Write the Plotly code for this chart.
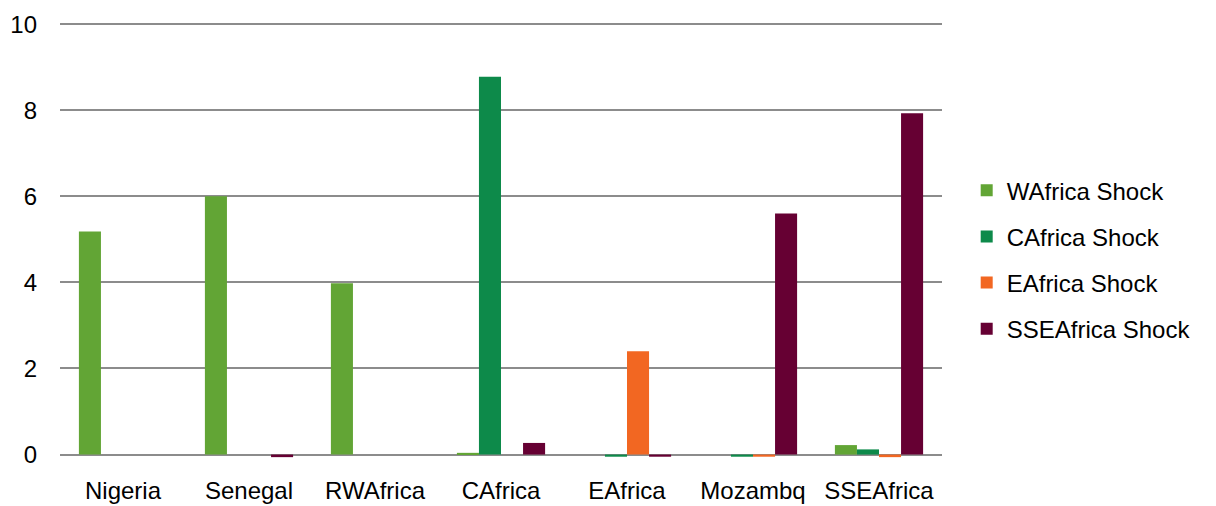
import plotly.graph_objects as go

categories = ["Nigeria", "Senegal", "RWAfrica", "CAfrica", "EAfrica", "Mozambq", "SSEAfrica"]
wafrica = [5.18, 6.0, 3.98, 0.04, 0.0, 0.0, 0.22]
cafrica = [0.0, 0.0, 0.0, 8.78, -0.05, -0.05, 0.12]
eafrica = [0.0, 0.0, 0.0, 0.0, 2.4, -0.05, -0.06]
sseafrica = [0.0, -0.06, 0.0, 0.27, -0.05, 5.6, 7.93]

series = [
    ("WAfrica Shock", wafrica, "#62A535"),
    ("CAfrica Shock", cafrica, "#0D8A4A"),
    ("EAfrica Shock", eafrica, "#F26722"),
    ("SSEAfrica Shock", sseafrica, "#660033"),
]

fig = go.Figure()
for i, (name, vals, color) in enumerate(series):
    fig.add_trace(go.Bar(x=categories, y=vals, name=name, marker_color=color,
                         marker_line_width=0, legendgroup=f"g{i}"))

fig.update_layout(
    width=1216, height=506,
    margin=dict(l=60, r=274, t=22, b=48),
    plot_bgcolor="white", paper_bgcolor="white",
    font=dict(family="Liberation Sans, Arial, sans-serif", size=24, color="#000000"),
    barmode="group", bargap=0.3, bargroupgap=0,
    showlegend=True,
    legend=dict(x=1.028, y=0.455, xanchor="left", yanchor="middle",
                traceorder="grouped", tracegroupgap=12,
                font=dict(size=24)),
    xaxis=dict(showgrid=False, showline=False, ticks="", ticklabelstandoff=16,
               automargin=False, tickfont=dict(size=24)),
    yaxis=dict(range=[-0.08, 10.05], tickvals=[0, 2, 4, 6, 8, 10], showgrid=True,
               gridcolor="#8c8c8c", gridwidth=1.5, zeroline=True,
               zerolinecolor="#8c8c8c", zerolinewidth=2, showline=False,
               automargin=False, ticks="", ticklabelstandoff=22,
               tickfont=dict(size=24)),
)

fig.write_html("out.html", config={"displayModeBar": False},
               post_script="document.body.style.margin='0px';document.body.style.overflow='hidden';")
